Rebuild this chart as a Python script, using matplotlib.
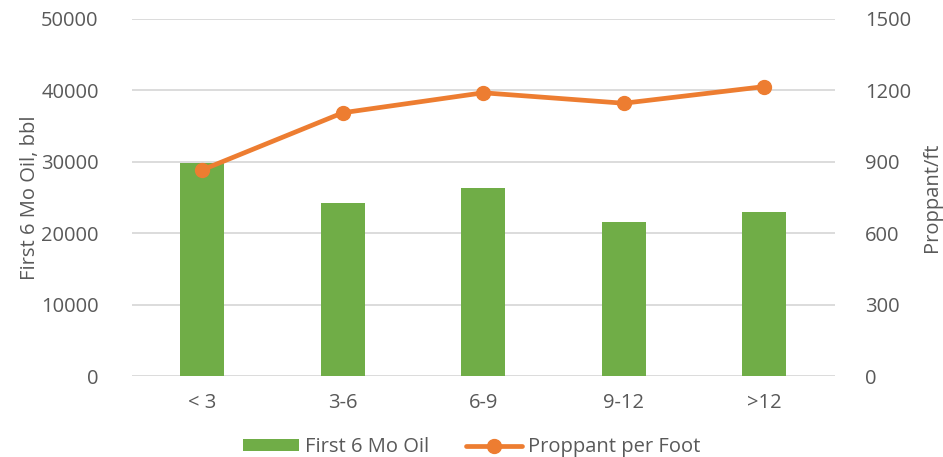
import matplotlib.pyplot as plt
import numpy as np

# well spacing bins vs first 6 month oil and proppant loading
categories = ['< 3', '3-6', '6-9', '9-12', '>12']
oil_6mo = [29900, 24200, 26300, 21550, 22900]
proppant_ft = [866, 1106, 1190, 1146, 1216]

green = '#70AD47'
orange = '#ED7D31'
txt = '#595959'
grid = '#D9D9D9'

plt.rcParams['font.family'] = ['Open Sans', 'DejaVu Sans']
fs = 14.5

fig = plt.figure(figsize=(9.43, 4.57), dpi=100)
ax = fig.add_axes([132/943, 1-376/457, (834.5-132)/943, (376-19)/457])
ax2 = ax.twinx()

x = np.arange(len(categories))
ax.bar(x, oil_6mo, width=0.31, color=green, label='First 6 Mo Oil', zorder=2)
ax2.plot(x, proppant_ft, color=orange, linewidth=3.4, marker='o', markersize=10,
         label='Proppant per Foot', solid_capstyle='round')

ax.set_xlim(-0.5, len(categories)-0.5)
ax.set_ylim(0, 50000)
ax.set_yticks(np.arange(0, 50001, 10000))
ax2.set_ylim(0, 1500)
ax2.set_yticks(np.arange(0, 1501, 300))
ax.set_xticks(x)
ax.set_xticklabels(categories)

for a in (ax, ax2):
    for s in a.spines.values():
        s.set_visible(False)
    a.tick_params(length=0, labelsize=fs, labelcolor=txt)
ax.tick_params(axis='y', pad=24)
ax.tick_params(axis='x', pad=12)
ax2.tick_params(axis='y', pad=22)
ax.grid(axis='y', color=grid, linewidth=1.3, zorder=0)
ax.set_axisbelow(True)

ax.set_ylabel('First 6 Mo Oil, bbl', fontsize=fs, color=txt, labelpad=1)
ax2.set_ylabel('Proppant/ft', fontsize=fs, color=txt, labelpad=8)

h1, l1 = ax.get_legend_handles_labels()
h2, l2 = ax2.get_legend_handles_labels()
fig.legend(h1+h2, l1+l2, loc='lower center', bbox_to_anchor=(0.5, -0.04), ncol=2,
           frameon=False, fontsize=fs, labelcolor=txt, handlelength=2.8,
           handleheight=0.5, handletextpad=0.3, columnspacing=1.8)

fig.savefig('out.png', dpi=100)
